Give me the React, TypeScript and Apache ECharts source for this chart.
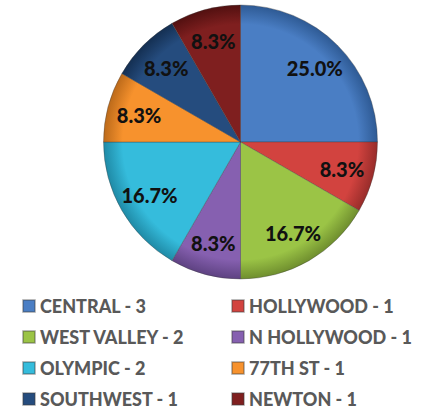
import React, { useEffect, useRef } from "react";
import * as echarts from "echarts";

const categories = ["CENTRAL", "HOLLYWOOD", "WEST VALLEY", "N HOLLYWOOD", "OLYMPIC", "77TH ST", "SOUTHWEST", "NEWTON"];
const counts = [3, 1, 2, 1, 2, 1, 1, 1];
const colors = ["#4A7EC4", "#D2433F", "#9BC446", "#8660B0", "#35BCDC", "#F7922D", "#254C7E", "#7F1F1F"];
const edgeColors = ["#2E5A94", "#982C2A", "#6F8E2E", "#5E4282", "#1F8AA6", "#BC6A1A", "#142F52", "#521010"];
const leftLegend = ["CENTRAL", "WEST VALLEY", "OLYMPIC", "SOUTHWEST"];
const rightLegend = ["HOLLYWOOD", "N HOLLYWOOD", "77TH ST", "NEWTON"];

const CX = 240.5;
const CY = 142;
const R = 137;

export default function App() {
  const ref = useRef<HTMLDivElement>(null);
  useEffect(() => {
    if (!ref.current) return;
    const chart = echarts.init(ref.current, null, { renderer: "svg" });
    const total = counts.reduce((a, b) => a + b, 0);
    const data = categories.map((name, i) => ({
      name,
      value: counts[i],
      itemStyle: {
        color: {
          type: "radial",
          x: CX,
          y: CY,
          r: R,
          global: true,
          colorStops: [
            { offset: 0, color: colors[i] },
            { offset: 0.86, color: colors[i] },
            { offset: 1, color: edgeColors[i] },
          ],
        },
      },
    }));
    const legendText = {
      color: "#595959",
      fontFamily: "Lato",
      fontWeight: 900,
      fontSize: 18,
    };
    const fmt = (name: string) => `${name} - ${counts[categories.indexOf(name)]}`;
    chart.setOption({
      animation: false,
      backgroundColor: "#ffffff",
      color: colors,
      legend: [
        {
          orient: "vertical",
          left: 22,
          top: 297,
          data: leftLegend.map((n) => ({ name: n, itemStyle: { color: colors[categories.indexOf(n)] } })),
          icon: "rect",
          itemWidth: 12,
          itemHeight: 12,
          itemGap: 13,
          padding: 0,
          textStyle: legendText,
          formatter: fmt,
          selectedMode: false,
        },
        {
          orient: "vertical",
          left: 231,
          top: 297,
          data: rightLegend.map((n) => ({ name: n, itemStyle: { color: colors[categories.indexOf(n)] } })),
          icon: "rect",
          itemWidth: 12,
          itemHeight: 12,
          itemGap: 13,
          padding: 0,
          textStyle: legendText,
          formatter: fmt,
          selectedMode: false,
        },
      ],
      series: [
        {
          type: "pie",
          center: [CX, CY],
          radius: [0, R],
          startAngle: 90,
          clockwise: true,
          data,
          label: { show: false },
          labelLine: { show: false },
          itemStyle: { borderColor: "rgba(60,60,60,0.35)", borderWidth: 1 },
          emphasis: { disabled: true },
        },
        {
          type: "pie",
          center: [CX, CY],
          radius: [67, R],
          startAngle: 90,
          clockwise: true,
          silent: true,
          data: categories.map((name, i) => ({ name, value: counts[i] })),
          itemStyle: { color: "rgba(0,0,0,0)" },
          label: {
            show: true,
            position: "inside",
            formatter: (p: any) => ((p.value / total) * 100).toFixed(1) + "%",
            color: "#111111",
            fontFamily: "Lato",
            fontWeight: 900,
            fontSize: 20,
          },
          labelLine: { show: false },
          emphasis: { disabled: true },
        },
      ],
    });
    return () => chart.dispose();
  }, []);
  return (
    <div
      ref={ref}
      style={{ position: "fixed", left: 0, top: 0, width: 426, height: 412, background: "#fff" }}
    />
  );
}
